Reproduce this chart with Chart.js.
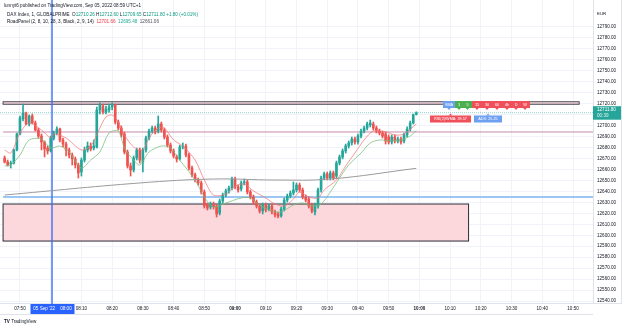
<!DOCTYPE html>
<html>
<head>
<meta charset="utf-8">
<script src="https://cdn.jsdelivr.net/npm/chart.js@4.4.1/dist/chart.umd.min.js"></script>
<style>
  html, body { margin: 0; padding: 0; background: #fff; }
</style>
</head>
<body>
<canvas id="chart" width="625" height="327"></canvas>
<script>
const FONT = '"Liberation Sans", Arial, sans-serif';
const UP = '#26a69a';
const DOWN = '#ef5350';

// time axis: one category per minute
const firstMinute = '07:44';
const lastMinute = '10:56';
const firstCandle = '07:45';
const timeTicks = ['07:50', '08:00', '08:10', '08:20', '08:30', '08:40', '08:50', '09:00', '09:10',
  '09:20', '09:30', '09:40', '09:50', '10:00', '10:10', '10:20', '10:30', '10:40', '10:50'];

// DAX 1 minute candles, 07:45 .. 09:59
const opens = [
  12670.5, 12666.8, 12665.0, 12665.9, 12677.8, 12692.4, 12706.1, 12711.5, 12701.5, 12708.8,
  12702.4, 12696.0, 12690.5, 12685.1, 12679.6, 12676.9, 12688.7, 12693.3, 12696.9, 12686.9,
  12683.2, 12677.8, 12673.2, 12669.6, 12664.1, 12657.7, 12668.6, 12677.8, 12681.4, 12679.6,
  12680.5, 12714.3, 12717.9, 12712.4, 12714.3, 12717.0, 12718.8, 12703.3, 12697.8, 12692.4,
  12675.9, 12663.2, 12659.5, 12670.5, 12677.8, 12666.8, 12677.8, 12688.7, 12695.1, 12697.8,
  12695.1, 12701.5, 12696.0, 12689.6, 12682.3, 12676.9, 12671.4, 12669.6, 12680.5, 12681.4,
  12673.2, 12661.3, 12655.0, 12650.4, 12647.7, 12639.4, 12627.6, 12625.8, 12628.5, 12626.7,
  12620.3, 12631.2, 12636.7, 12640.4, 12643.1, 12651.3, 12644.0, 12642.2, 12647.7, 12648.6,
  12639.4, 12634.9, 12630.3, 12626.7, 12622.1, 12627.6, 12623.9, 12626.7, 12621.2, 12619.4,
  12617.5, 12623.9, 12632.1, 12635.8, 12638.5, 12641.3, 12645.8, 12641.3, 12634.9, 12633.1,
  12627.6, 12621.2, 12626.7, 12641.3, 12652.2, 12655.9, 12652.2, 12656.8, 12654.0, 12665.9,
  12671.4, 12676.9, 12681.4, 12684.2, 12687.8, 12685.1, 12690.5, 12695.1, 12697.8, 12700.6,
  12701.5, 12697.8, 12695.1, 12693.3, 12692.4, 12689.6, 12685.1, 12689.6, 12686.0, 12687.8,
  12686.0, 12691.5, 12696.9, 12702.4, 12710.26
];
const highs = [
  12672.3, 12668.6, 12667.7, 12678.7, 12693.3, 12708.8, 12719.7, 12712.4, 12709.7, 12710.6,
  12704.2, 12697.8, 12692.4, 12686.0, 12681.4, 12690.5, 12695.1, 12698.8, 12697.8, 12688.7,
  12685.1, 12679.6, 12675.0, 12671.4, 12665.9, 12670.5, 12680.5, 12685.1, 12684.2, 12686.9,
  12717.0, 12720.7, 12719.7, 12717.9, 12719.7, 12720.7, 12719.7, 12705.1, 12699.7, 12694.2,
  12677.8, 12665.9, 12672.3, 12679.6, 12679.6, 12679.6, 12690.5, 12696.9, 12699.7, 12699.7,
  12708.8, 12703.3, 12697.8, 12691.5, 12684.2, 12678.7, 12673.2, 12682.3, 12684.2, 12683.2,
  12675.0, 12663.2, 12656.8, 12652.2, 12649.5, 12641.3, 12629.4, 12630.3, 12630.3, 12627.6,
  12633.1, 12638.5, 12642.2, 12644.9, 12653.1, 12653.1, 12645.8, 12649.5, 12651.3, 12650.4,
  12641.3, 12636.7, 12632.1, 12628.5, 12629.4, 12629.4, 12628.5, 12628.5, 12623.0, 12621.2,
  12625.8, 12634.0, 12637.6, 12640.4, 12648.6, 12647.7, 12647.7, 12643.1, 12636.7, 12634.9,
  12629.4, 12629.4, 12643.1, 12654.0, 12657.7, 12657.7, 12658.6, 12658.6, 12667.7, 12673.2,
  12678.7, 12683.2, 12686.0, 12689.6, 12689.6, 12692.4, 12696.9, 12699.7, 12703.3, 12705.1,
  12703.3, 12699.7, 12696.9, 12695.1, 12694.2, 12691.5, 12691.5, 12691.5, 12689.6, 12689.6,
  12693.3, 12698.8, 12704.2, 12710.6, 12712.60
];
const lows = [
  12665.9, 12663.2, 12661.3, 12665.0, 12676.9, 12691.5, 12704.2, 12700.6, 12699.7, 12701.5,
  12695.1, 12688.7, 12677.8, 12671.4, 12674.1, 12675.9, 12686.9, 12691.5, 12685.1, 12680.5,
  12672.3, 12670.5, 12664.1, 12661.3, 12652.2, 12654.0, 12666.8, 12675.9, 12676.9, 12677.8,
  12679.6, 12710.6, 12710.6, 12710.6, 12712.4, 12714.3, 12701.5, 12696.0, 12689.6, 12674.1,
  12661.3, 12654.0, 12657.7, 12668.6, 12665.9, 12657.7, 12675.9, 12686.9, 12693.3, 12692.4,
  12693.3, 12694.2, 12687.8, 12680.5, 12675.0, 12670.5, 12666.8, 12668.6, 12678.7, 12671.4,
  12659.5, 12653.1, 12648.6, 12645.8, 12637.6, 12624.8, 12623.0, 12623.9, 12623.9, 12616.6,
  12618.5, 12629.4, 12634.9, 12638.5, 12641.3, 12642.2, 12639.4, 12640.4, 12645.8, 12637.6,
  12633.1, 12628.5, 12624.8, 12620.3, 12619.4, 12621.2, 12622.1, 12619.4, 12616.6, 12615.7,
  12616.6, 12622.1, 12630.3, 12634.0, 12636.7, 12639.4, 12639.4, 12633.1, 12630.3, 12624.8,
  12620.3, 12618.5, 12624.8, 12639.4, 12650.4, 12650.4, 12650.4, 12650.4, 12652.2, 12664.1,
  12669.6, 12675.0, 12679.6, 12682.3, 12683.2, 12683.2, 12688.7, 12693.3, 12696.0, 12698.8,
  12696.0, 12693.3, 12691.5, 12688.7, 12683.2, 12683.2, 12683.2, 12684.2, 12684.2, 12683.2,
  12684.2, 12689.6, 12695.1, 12701.5, 12709.65
];
const closes = [
  12666.8, 12664.1, 12665.9, 12677.8, 12692.4, 12707.0, 12711.5, 12701.5, 12708.8, 12702.4,
  12696.0, 12690.5, 12685.1, 12678.7, 12676.9, 12688.7, 12693.3, 12696.9, 12686.9, 12683.2,
  12677.8, 12673.2, 12669.6, 12664.1, 12656.8, 12668.6, 12677.8, 12681.4, 12678.7, 12681.4,
  12714.3, 12718.8, 12712.4, 12715.2, 12717.0, 12718.8, 12703.3, 12697.8, 12691.5, 12675.9,
  12663.2, 12659.5, 12670.5, 12677.8, 12668.6, 12677.8, 12688.7, 12695.1, 12697.8, 12694.2,
  12701.5, 12696.0, 12689.6, 12682.3, 12676.9, 12672.3, 12669.6, 12680.5, 12681.4, 12673.2,
  12661.3, 12655.0, 12650.4, 12647.7, 12639.4, 12626.7, 12624.8, 12628.5, 12625.8, 12619.4,
  12631.2, 12636.7, 12640.4, 12643.1, 12651.3, 12644.0, 12641.3, 12647.7, 12648.6, 12639.4,
  12634.9, 12630.3, 12626.7, 12622.1, 12627.6, 12623.0, 12626.7, 12621.2, 12618.5, 12617.5,
  12623.9, 12632.1, 12635.8, 12638.5, 12641.3, 12645.8, 12641.3, 12634.9, 12632.1, 12626.7,
  12622.1, 12627.6, 12641.3, 12652.2, 12655.9, 12652.2, 12656.8, 12652.2, 12665.9, 12671.4,
  12676.9, 12681.4, 12684.2, 12687.8, 12685.1, 12690.5, 12695.1, 12697.8, 12701.5, 12702.4,
  12697.8, 12695.1, 12693.3, 12690.5, 12686.0, 12685.1, 12689.6, 12686.0, 12687.8, 12685.1,
  12691.5, 12696.9, 12702.4, 12710.0, 12711.80
];

// RoadPanel moving averages
const fastMaTimes = ['07:45', '07:47', '07:50', '07:53', '07:57', '08:00', '08:01', '08:05', '08:10', '08:13',
  '08:16', '08:18', '08:20', '08:22', '08:24', '08:27', '08:30', '08:32', '08:35', '08:37', '08:40', '08:43',
  '08:47', '08:50', '08:53', '08:57', '09:00', '09:03', '09:06', '09:10', '09:13', '09:16', '09:19', '09:21',
  '09:24', '09:27', '09:29', '09:33', '09:36', '09:39', '09:42', '09:45', '09:49', '09:52', '09:55', '09:59'];
const fastMa = [12677.8, 12675.0, 12693.3, 12702.4, 12696.0, 12688.7, 12692.4, 12688.7, 12677.8, 12681.4,
  12697.8, 12707.9, 12709.7, 12703.3, 12691.5, 12680.5, 12677.8, 12688.7, 12697.8, 12697.8, 12686.9, 12681.4,
  12668.6, 12650.4, 12636.7, 12637.6, 12644.9, 12646.7, 12640.4, 12634.0, 12628.5, 12626.7, 12633.1, 12639.4,
  12634.9, 12634.0, 12641.3, 12650.4, 12663.2, 12675.0, 12686.9, 12695.1, 12694.2, 12691.5, 12692.4, 12701.66];

const slowMaTimes = ['07:45', '07:47', '07:50', '07:53', '07:57', '08:00', '08:03', '08:06', '08:10', '08:13',
  '08:16', '08:19', '08:22', '08:24', '08:27', '08:29', '08:32', '08:36', '08:39', '08:42', '08:47', '08:50',
  '08:53', '08:57', '09:02', '09:05', '09:08', '09:12', '09:15', '09:19', '09:22', '09:25', '09:28', '09:31',
  '09:34', '09:37', '09:41', '09:44', '09:47', '09:51', '09:54', '09:57', '09:59'];
const slowMa = [12663.2, 12664.1, 12673.2, 12686.9, 12687.8, 12679.6, 12681.4, 12675.9, 12661.3, 12668.6,
  12675.9, 12693.3, 12695.1, 12679.6, 12668.6, 12664.1, 12675.9, 12681.4, 12679.6, 12668.6, 12650.4, 12634.9,
  12625.8, 12629.4, 12634.0, 12634.0, 12627.6, 12622.1, 12621.2, 12627.6, 12629.4, 12626.7, 12628.5, 12639.4,
  12652.2, 12664.1, 12675.0, 12684.2, 12686.9, 12686.0, 12686.9, 12690.5, 12695.48];

const longMaTimes = ['07:45', '08:29', '08:53', '09:13', '09:31', '09:59'];
const longMa = [12636.7, 12647.7, 12651.3, 12650.4, 12651.3, 12661.06];

// drawn levels and zones (prices)
const topZone = [12719.5, 12721.8];
const topZoneEnd = '10:52';
const bottomZone = [12594.7, 12628.5];
const bottomZoneEnd = '10:16';
const pinkLevel = 12694.2;
const blueLevel = 12634.9;
const crosshairTime = '08:00';
const lastPrice = 12711.80;
const priceMin = 12540, priceMax = 12790;

function toMin(s) { const p = s.split(':'); return +p[0] * 60 + +p[1]; }
function toLabel(v) { return String(Math.floor(v / 60)).padStart(2, '0') + ':' + String(v % 60).padStart(2, '0'); }

const minutes = [];
for (let m = toMin(firstMinute); m <= toMin(lastMinute); m++) minutes.push(toLabel(m));
const candleTimes = opens.map((_, i) => toLabel(toMin(firstCandle) + i));
const candleColors = closes.map((c, i) => (c >= opens[i] ? UP : DOWN));

const wicks = candleTimes.map((t, i) => ({ x: t, y: [lows[i], highs[i]] }));
const bodies = candleTimes.map((t, i) => ({ x: t, y: [opens[i], closes[i]] }));
const pairs = (times, vals) => times.map((t, i) => ({ x: t, y: vals[i] }));

const onGrid = (v) => v >= priceMin && v <= priceMax && Math.abs(Math.round(v / 10) * 10 - v) < 1e-6;

function drawSegments(ctx, x, y, segs, size) {
  ctx.textBaseline = 'middle';
  ctx.textAlign = 'left';
  segs.forEach(([text, color, bold]) => {
    ctx.font = (bold ? 'bold ' : '') + size + 'px ' + FONT;
    ctx.fillStyle = color;
    ctx.fillText(text, x, y);
    x += ctx.measureText(text).width;
  });
}

function pill(ctx, x0, x1, y0, y1, color, text, pointerDown) {
  ctx.fillStyle = color;
  ctx.fillRect(x0, y0, x1 - x0, y1 - y0);
  const cx = (x0 + x1) / 2;
  ctx.beginPath();
  if (pointerDown) {
    ctx.moveTo(cx - 1.8, y1); ctx.lineTo(cx + 1.8, y1); ctx.lineTo(cx, y1 + 2);
  } else {
    ctx.moveTo(cx - 1.8, y0); ctx.lineTo(cx + 1.8, y0); ctx.lineTo(cx, y0 - 2);
  }
  ctx.fill();
  ctx.fillStyle = '#fff';
  ctx.font = '3.8px ' + FONT;
  ctx.textAlign = 'center';
  ctx.textBaseline = 'middle';
  ctx.fillText(text, cx, (y0 + y1) / 2 + 0.3);
}

const overlays = {
  id: 'overlays',
  beforeDatasetsDraw(chart) {
    const { ctx, chartArea: a, scales: { x, y } } = chart;
    const half = (x.getPixelForValue(1) - x.getPixelForValue(0)) / 2;
    const xAt = (t) => x.getPixelForValue(minutes.indexOf(t));
    const left = xAt(firstCandle) - half;
    ctx.save();

    // upper zone
    let y0 = y.getPixelForValue(topZone[1]), y1 = y.getPixelForValue(topZone[0]);
    ctx.fillStyle = 'rgba(242, 54, 69, 0.18)';
    ctx.fillRect(left, y0, xAt(topZoneEnd) - left, y1 - y0);
    ctx.strokeStyle = '#4a4a55';
    ctx.lineWidth = 1;
    ctx.strokeRect(left, y0, xAt(topZoneEnd) - left, y1 - y0);

    // lower zone
    y0 = y.getPixelForValue(bottomZone[1]); y1 = y.getPixelForValue(bottomZone[0]);
    ctx.fillStyle = '#fcd8dc';
    ctx.fillRect(left, y0, xAt(bottomZoneEnd) - left, y1 - y0);
    ctx.strokeStyle = '#2a2e39';
    ctx.lineWidth = 1;
    ctx.strokeRect(left, y0, xAt(bottomZoneEnd) - left, y1 - y0);

    // horizontal levels
    ctx.lineWidth = 1;
    ctx.strokeStyle = '#c68aa8';
    ctx.beginPath();
    ctx.moveTo(left, y.getPixelForValue(pinkLevel)); ctx.lineTo(a.right, y.getPixelForValue(pinkLevel));
    ctx.stroke();
    ctx.lineWidth = 2;
    ctx.strokeStyle = '#9cc6f4';
    ctx.beginPath();
    ctx.moveTo(left, y.getPixelForValue(blueLevel)); ctx.lineTo(a.right, y.getPixelForValue(blueLevel));
    ctx.stroke();

    // last price line
    ctx.lineWidth = 1;
    ctx.strokeStyle = '#8fd3cb';
    ctx.setLineDash([1, 1]);
    ctx.beginPath();
    ctx.moveTo(a.left, y.getPixelForValue(lastPrice)); ctx.lineTo(a.right, y.getPixelForValue(lastPrice));
    ctx.stroke();
    ctx.setLineDash([]);

    // crosshair
    const cx = Math.round(xAt(crosshairTime)) + 1;
    ctx.strokeStyle = '#3d6ff5';
    ctx.lineWidth = 1.4;
    ctx.beginPath();
    ctx.moveTo(cx, 0); ctx.lineTo(cx, a.bottom + 1);
    ctx.stroke();
    ctx.restore();
  },
  afterDraw(chart) {
    const { ctx, chartArea: a, scales: { x, y } } = chart;
    const xAt = (t) => x.getPixelForValue(minutes.indexOf(t));
    ctx.save();

    // header
    drawSegments(ctx, 4, 5.5, [['lunnyt6 published on TradingView.com, Sep 05, 2022 08:59 UTC+1', '#131722']], 4.6);
    const teal = '#089981', dark = '#131722';
    drawSegments(ctx, 7, 15, [
      ['DAX Index, 1, GLOBALPRIME  ', dark], ['O', dark], ['12710.26', teal], [' H', dark], ['12712.60', teal],
      [' L', dark], ['12709.65', teal], [' C', dark], ['12711.80', teal], [' +1.80 (+0.01%)', teal]
    ], 4.6);
    drawSegments(ctx, 7, 21.5, [
      ['RoadPanel (2, 8, 10, 28, 3, Black, 2, 9, 14)  ', dark], ['12701.66', '#f23645'], ['  ', dark],
      ['12695.48', '#22ab94'], ['  ', dark], ['12661.06', '#50535e']
    ], 4.6);

    // timeframe panel
    const blue = '#6ea0f2', green = '#4caf50', red = '#f0505a';
    [['SMA', 443, 455, blue], ['1', 455, 463, green], ['5', 463, 472, green], ['15', 472, 482, red],
     ['30', 482, 492, red], ['60', 492, 502, red], ['4h', 502, 512, red], ['D', 512, 520, red], ['W', 520, 530, red]]
      .forEach(([t, x0, x1, c]) => pill(ctx, x0, x1, 101, 108, c, t, true));
    pill(ctx, 430, 471, 115.5, 122.5, red, 'RSI(2)/WMA: 39.57', false);
    pill(ctx, 474, 502, 115.5, 122.5, blue, 'ADX: 25.25', false);

    // price axis extras
    ctx.fillStyle = '#131722';
    ctx.font = '4.4px ' + FONT;
    ctx.textAlign = 'left';
    ctx.textBaseline = 'middle';
    ctx.fillText('EUR', a.right + 4, 14);
    const py = y.getPixelForValue(lastPrice);
    ctx.fillStyle = UP;
    ctx.fillRect(a.right, py - 6.5, 28, 13.5);
    ctx.fillStyle = '#fff';
    ctx.font = '4.6px ' + FONT;
    ctx.fillText('12711.80', a.right + 4, py - 2.5);
    ctx.fillStyle = 'rgba(255,255,255,0.85)';
    ctx.fillText('00:39', a.right + 4, py + 3.5);

    // right and bottom frame lines
    ctx.strokeStyle = '#e0e3eb';
    ctx.lineWidth = 1;
    ctx.beginPath();
    ctx.moveTo(621.5, 0); ctx.lineTo(621.5, a.bottom + 1);
    ctx.moveTo(a.right, a.bottom + 0.5); ctx.lineTo(622, a.bottom + 0.5);
    ctx.moveTo(0, 314.5); ctx.lineTo(593, 314.5);
    ctx.stroke();

    // crosshair time label
    const cx = Math.round(xAt(crosshairTime)) + 1;
    ctx.fillStyle = '#2962ff';
    ctx.fillRect(cx - 21.5, a.bottom + 1, 44, 10);
    ctx.fillStyle = '#fff';
    ctx.font = '4.6px ' + FONT;
    ctx.textAlign = 'center';
    ctx.fillText("05 Sep '22    08:00", cx + 0.5, a.bottom + 6);

    // logo
    drawSegments(ctx, 4, 321.5, [['TV ', '#131722', true], ['TradingView', '#131722']], 4.6);
    ctx.restore();
  }
};

new Chart(document.getElementById('chart'), {
  type: 'bar',
  data: {
    labels: minutes,
    datasets: [
      { type: 'line', data: pairs(fastMaTimes, fastMa), borderColor: 'rgba(242, 120, 120, 0.75)', borderWidth: 1,
        pointRadius: 0, tension: 0.3, order: 0 },
      { type: 'line', data: pairs(slowMaTimes, slowMa), borderColor: 'rgba(120, 190, 120, 0.75)', borderWidth: 1,
        pointRadius: 0, tension: 0.3, order: 0 },
      { type: 'line', data: pairs(longMaTimes, longMa), borderColor: '#9a9a9a', borderWidth: 1,
        pointRadius: 0, tension: 0.4, order: 0 },
      { data: wicks, backgroundColor: candleColors, barThickness: 1, grouped: false, order: 2 },
      { data: bodies, backgroundColor: candleColors, barThickness: 2, grouped: false, minBarLength: 1, order: 1 }
    ]
  },
  options: {
    responsive: false,
    animation: false,
    devicePixelRatio: 1,
    layout: { padding: { left: 0, right: 0, top: 0, bottom: 10 } },
    plugins: { legend: { display: false }, tooltip: { enabled: false } },
    scales: {
      x: {
        type: 'category',
        offset: true,
        grid: {
          offset: false,
          drawTicks: false,
          color: (c) => (timeTicks.includes(minutes[c.index]) ? '#f0f3fa' : 'rgba(0,0,0,0)')
        },
        border: { color: '#e0e3eb' },
        ticks: {
          autoSkip: false,
          maxRotation: 0,
          minRotation: 0,
          padding: 3,
          color: '#131722',
          font: (c) => ({ family: FONT, size: 4.6,
            weight: (c.tick && /:00$/.test(c.tick.label)) ? 'bold' : 'normal' }),
          callback: (v, i) => (timeTicks.includes(minutes[i]) ? minutes[i] : '')
        },
        afterFit: (axis) => { axis.height = 14; axis.paddingLeft = 0; axis.paddingRight = 0; }
      },
      y: {
        type: 'linear',
        position: 'right',
        min: 12538.18,
        max: 12814.63,
        grid: {
          drawTicks: false,
          color: (c) => (c.tick && onGrid(c.tick.value) ? '#f0f3fa' : 'rgba(0,0,0,0)')
        },
        border: { color: '#e0e3eb' },
        ticks: {
          stepSize: 10,
          maxTicksLimit: 100,
          includeBounds: false,
          padding: 4,
          color: '#131722',
          font: { family: FONT, size: 4.6 },
          callback: (v) => (onGrid(v) ? v.toFixed(2) : '')
        },
        afterFit: (axis) => { axis.width = 32; axis.paddingTop = 0; axis.paddingBottom = 0; }
      }
    }
  },
  plugins: [overlays]
});
</script>
</body>
</html>
